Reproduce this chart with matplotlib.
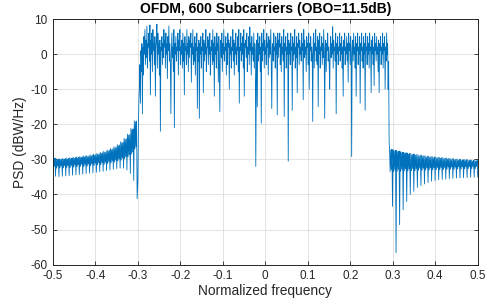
import matplotlib
matplotlib.use("Agg")
import matplotlib.pyplot as plt
import numpy as np

plt.rcParams['font.family'] = ['Liberation Sans', 'DejaVu Sans']
plt.rcParams['axes.unicode_minus'] = False

# left side lobes, one entry per ripple (peak / band bottom / dip), dB
left_hi = [-29.5, -29.8, -29.8, -29.7, -29.6, -29.5, -29.4, -29.3, -29.2, -29.0,
           -28.9, -28.7, -28.5, -28.3, -28.0, -27.7, -27.3, -26.9, -26.4, -25.8,
           -25.0, -24.0, -22.8, -21.2, -19.0]
left_mid = [-32.5, -32.5, -32.4, -32.4, -32.3, -32.3, -32.2, -32.1, -32.0, -32.0,
            -31.9, -31.8, -31.7, -31.6, -31.5, -31.4, -31.2, -31.0, -30.8, -30.5,
            -30.2, -29.8, -29.3, -28.5, -27.0]
left_lo = [-34.8, -34.9, -34.8, -34.7, -34.6, -34.5, -34.4, -34.3, -34.2, -34.0,
           -33.9, -33.8, -33.7, -33.5, -33.4, -33.2, -33.0, -32.8, -32.6, -32.5,
           -32.5, -33.0, -34.0, -36.0, -41.2]

# in-band PSD, read column by column, dB
inband = [
    -35.8, -20.6, -13,
    -9, -3, -14, 1, -5, 3, -17, 2, -6, 5, 0, 7, -3, 4, -1, 8, -4, 3, 2, 6,
    -2, 8.3, -11.6, 4, 0, 6, -5, 7, 1, 3, -3, 5, -12, 2, 4, 8.5, -4, 6, 0, 3,
    -6, 4, -22, 2, 1, 5, -3, 3, -1, 7, 2, 4, -4, 6, 0, 3, -7, 5, 1, 8,
    -2, 3, -3, -17, 1, 6, -1, 2, -5, 7, -21, 3, 0, 5, -2, 2, 1, 6, -6, 4,
    1, 7, -3, 2, 0, 4, -4, 6, -2, 3, -11.6, 5, 1, 2, -3, 7, 0, 3, -5, 5,
    -1, 4, 2, 6, -8, 3, 0, 7, -3, 2, -2, 5, -6, 3, 1, 6, -15.5, 2, -2, 4,
    -18.3, 3, 0, 5, -4, 2, 1, 6, -11, 4, -2, 3, 0, 7, -5, 2, 2, 5, -3, 4,
    0, 6, -6, 2, 1, 4, -3, 7, -2, 3, -12, 5, 0, 2, -4, 6, 1, 3, -8, 5,
    -3, -16.4, 2, 4, -1, 6, -5, 3, 0, 7, -2, 2, 1, 5, -6, 3, -3, 6, 2, 4,
    -10, 3, 0, 5, -4, 2, 1, 7, -2, 4, -6, 3, 0, 6, -3, 2, 1, 5, -5, 7,
    -14, 2, 1, 6, -2, 3, 0, 5, -4, 7, -12, 3, 2, 4, -1, 6, -5, 2, 0, 5,
    -3, 7.7, 1, 3, -6, 5, 0, 2, -2, 6, -4, 3, 1, -32, -8, 4, -15, 6, -2, 3,
    0, 5, -5, 2, -19.7, 6, -2, 3, 1, 7, -4, 4, 0, 2, -3, 6, 2, 3, -6, 5,
    -1, 4, 0, 7, -3, -15.5, 2, 3, -2, 6, 1, 2, -4, 5, 0, 3, -17.3, 6, -1, 4,
    2, 6, -3, 3, -5, 5, 0, 2, -2, 7, -17.8, 3, 1, 5, -4, 2, 0, 6, -30.5, 4,
    0, 3, -3, 6, 1, 2, -16, 5, -2, 3, 0, 7, -4, 2, -1, 5, -11, 3, 2, 6,
    -3, 4, 0, 2, -2, 6, 1, 3, -13, 7, -1, 4, 0, 2, -5, 5, 2, 3, -3, 6,
    -10, 3, 1, 5, -2, 2, 0, -19.2, 4, 6, -4, 3, 1, 7, -2, 2, -3, 5, -15, 4,
    0, 6, -4, 2, 1, 5, -3, 3, -1, 7, 0, -18.3, 2, 4, -5, 3, 1, 6, -2, 2,
    -3, -10, 2, 5, -1, 3, 0, 7.8, -4, 4, 1, 2, -2, 6, -17, 3, 0, 5, -3, 2,
    1, 6, -2, 3, 0, 5, -4, 2, -12, 4, 1, 6, -3, 2, 0, 5, -2, 3, -8, 6,
    1, 3, -3, 5, 0, -29.2, 2, 4, -2, 6, 0, 2, -4, 5, -12, 3, 1, 6, -3, 2,
    0, 5, -14, 3, 1, 6, -2, 2, -4, 5, 0, 3, -16, 6, 1, 2, -3, 5, 0, 3,
    -4, 6, 1, 2, -11, 4, 0, 5, -3, 2, -9, 6, 1, 3, -2, 5, 0, 2, -5, 4,
    -11, 3, 1, 5, -3, 2, 0, 6, -4, 3, 1, 5, -10, 2, -2, 6, 0, 3, -10, -2,
    -25,
]

# right side lobes
right_hi = [-27.0, -27.3, -27.5, -27.8, -28.0, -28.2, -28.4, -28.5, -28.7, -28.8,
            -29.0, -29.1, -29.2, -29.3, -29.4, -29.5, -29.6, -29.7, -29.8, -29.9,
            -30.0, -30.0, -30.1, -30.2, -30.2]
right_mid = [-33.5, -33.5, -33.4, -33.4, -33.3, -33.3, -33.2, -33.2, -33.1, -33.1,
             -33.0, -33.0, -33.0, -32.9, -32.9, -32.9, -32.8, -32.8, -32.8, -32.7,
             -32.7, -32.7, -32.6, -32.6, -32.6]
right_lo = [-43.4, -56.6, -48.6, -44.4, -42.0, -40.0, -39.1, -38.0, -37.5, -37.0,
            -36.6, -36.2, -36.0, -35.8, -35.7, -35.6, -35.5, -35.4, -35.3, -35.3,
            -35.2, -35.2, -35.1, -35.1, -35.0]

xticks = [-0.5, -0.4, -0.3, -0.2, -0.1, 0, 0.1, 0.2, 0.3, 0.4, 0.5]
xticklabels = ['-0.5', '-0.4', '-0.3', '-0.2', '-0.1', '0', '0.1', '0.2', '0.3', '0.4', '0.5']
yticks = [-60, -50, -40, -30, -20, -10, 0, 10]


def ripples(hi, mid, lo):
    # six samples per ripple: peaks and band bottom, then the null
    hi = np.array(hi)
    mid = np.array(mid)
    return np.column_stack([hi, mid, hi - 0.3, mid + 0.6, hi - 0.1, lo]).ravel()


psd_left = ripples(left_hi, left_mid, left_lo)
psd_right = ripples(right_hi, right_mid, right_lo)

# frequency grid of each part
f_left = np.linspace(-0.5, -0.3, len(psd_left), endpoint=False)
f_in = np.linspace(-0.2995, 0.2915, len(inband))
f_right = np.linspace(0.2925, 0.5, len(psd_right))

freq = np.concatenate([f_left, f_in, f_right])
psd = np.concatenate([psd_left, inband, psd_right])

fig = plt.figure(figsize=(4.87, 3.08), dpi=100)
ax = fig.add_axes([0.1082, 0.1406, 0.8728, 0.7977])
ax.plot(freq, psd, color='#0072BD', lw=0.6)

ax.set_xlim(-0.5, 0.5)
ax.set_ylim(-60, 10)
ax.set_xticks(xticks)
ax.set_xticklabels(xticklabels)
ax.set_yticks(yticks)
ax.grid(True, color='#dedede', lw=0.6)
ax.set_axisbelow(True)
for s in ax.spines.values():
    s.set_color('#262626')
    s.set_linewidth(0.7)
ax.tick_params(direction='in', length=3, width=0.6, colors='#262626',
               labelsize=8.5, top=True, right=True, pad=4)
ax.set_xlabel('Normalized frequency', fontsize=9.9, color='#262626', labelpad=1)
ax.set_ylabel('PSD (dBW/Hz)', fontsize=9.9, color='#262626', labelpad=2)
ax.set_title('OFDM, 600 Subcarriers (OBO=11.5dB)', fontsize=10, fontweight='bold',
             color='black', pad=4)

fig.savefig('out.png', dpi=100)
